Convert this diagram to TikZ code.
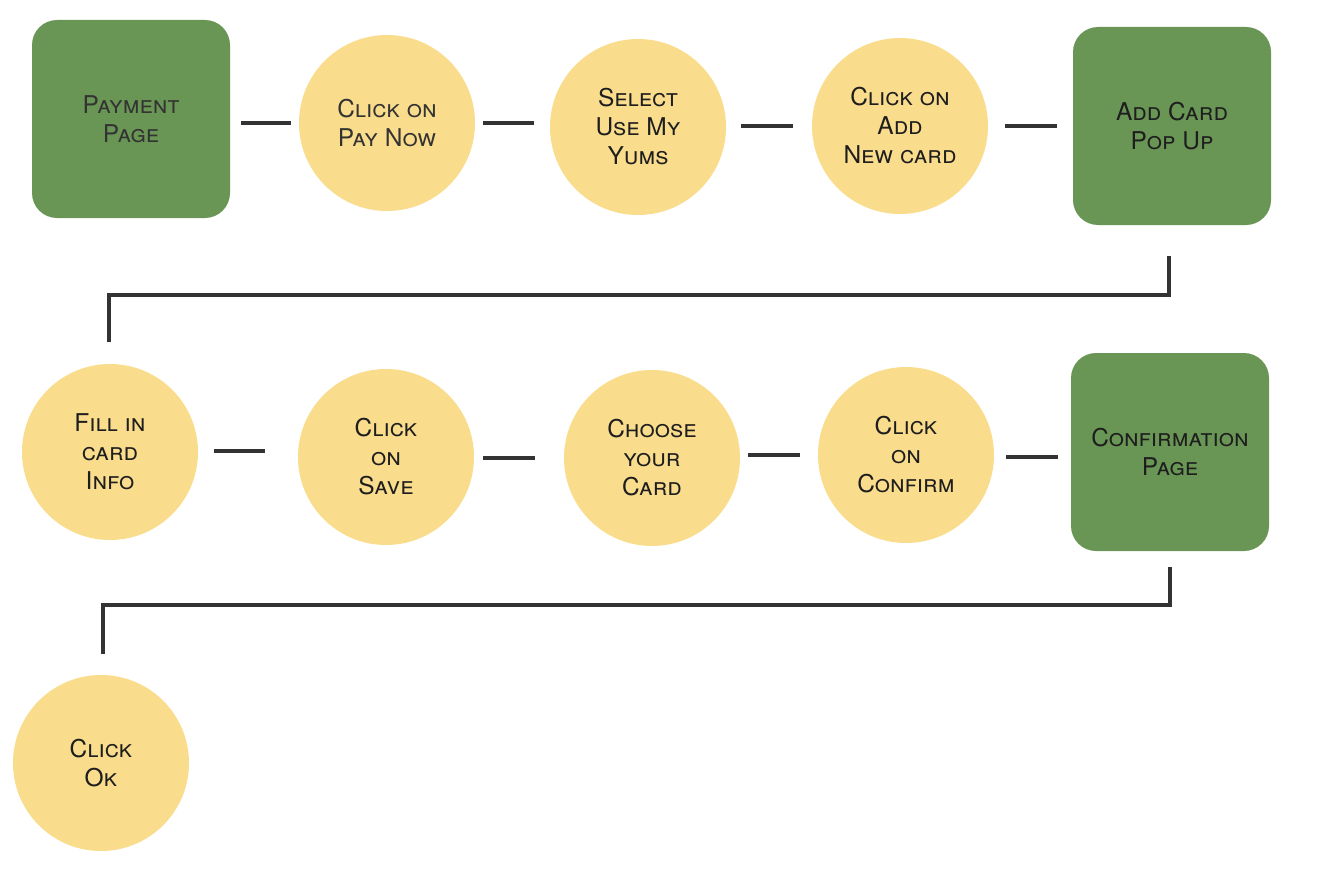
\documentclass[tikz,border=0pt]{standalone}
\usepackage{fontspec}
\setmainfont{TeX Gyre Heros}
\definecolor{boxgreen}{HTML}{6A9655}
\definecolor{dotyellow}{HTML}{F9DC8C}
\definecolor{linegray}{HTML}{333333}
\definecolor{txt}{HTML}{1E1E1E}
\tikzset{
  lbl/.style={font=\fontsize{24.5}{29}\selectfont\scshape, text=txt, align=center},
  pagebox/.style={lbl, fill=boxgreen, rounded corners=25pt, minimum width=198pt, minimum height=198pt, inner sep=0pt},
  stepdot/.style={lbl, circle, fill=dotyellow, minimum size=176pt, inner sep=0pt},
  conn/.style={draw=linegray, line width=4pt, line cap=butt, line join=miter}
}
\begin{document}
\begin{tikzpicture}[x=1pt,y=-1pt]
\useasboundingbox (0,0) rectangle (1322,872);
% row 1
\node[pagebox, text=linegray] (pp) at (131,119) {Payment\\Page};
\node[stepdot, text=linegray] (pay) at (387,123) {Click on\\Pay Now};
\node[stepdot] (yums) at (638,127) {Select\\Use My\\Yums};
\node[stepdot] (add) at (900,126) {Click on\\Add\\New card};
\node[pagebox] (pop) at (1172,126) {Add Card\\Pop Up};
% row 2
\node[stepdot] (fill) at (110,452) {Fill in\\card\\Info};
\node[stepdot] (save) at (386,457) {Click\\on\\Save};
\node[stepdot] (choose) at (652,458) {Choose\\your\\Card};
\node[stepdot] (confirm) at (906,455) {Click\\on\\Confirm};
\node[pagebox] (conf) at (1170,452) {Confirmation\\Page};
% row 3
\node[stepdot] (ok) at (101,763) {Click\\Ok};
% row 1 connectors
\draw[conn] ([xshift=11pt]pp.east |- pay.west) -- ([xshift=-8pt]pay.west);
\draw[conn] ([xshift=8pt]pay.east) -- ([xshift=-16pt]pay.east -| yums.west);
\draw[conn] ([xshift=15pt]yums.east |- add.west) -- ([xshift=-19pt]add.west);
\draw[conn] ([xshift=17pt]add.east) -- ([xshift=-16pt]add.east -| pop.west);
% elbow 1
\coordinate (e1s) at (1169,256);
\coordinate (e1e) at (109,342);
\draw[conn] (e1s) -- ++(0,39) -| (e1e);
% row 2 connectors
\draw[conn] ([xshift=16pt]fill.east |- 0,451) -- ([xshift=-33pt]save.west |- 0,451);
\draw[conn] ([xshift=9pt]save.east |- choose.west) -- ([xshift=-29pt]choose.west);
\draw[conn] ([xshift=8pt]choose.east |- confirm.west) -- ([xshift=-18pt]confirm.west);
\draw[conn] ([xshift=12pt]confirm.east |- 0,457) -- ([xshift=-13pt]conf.west |- 0,457);
% elbow 2
\coordinate (e2s) at (1170,567);
\coordinate (e2e) at (103,654);
\draw[conn] (e2s) -- ++(0,38) -| (e2e);
\end{tikzpicture}
\end{document}
